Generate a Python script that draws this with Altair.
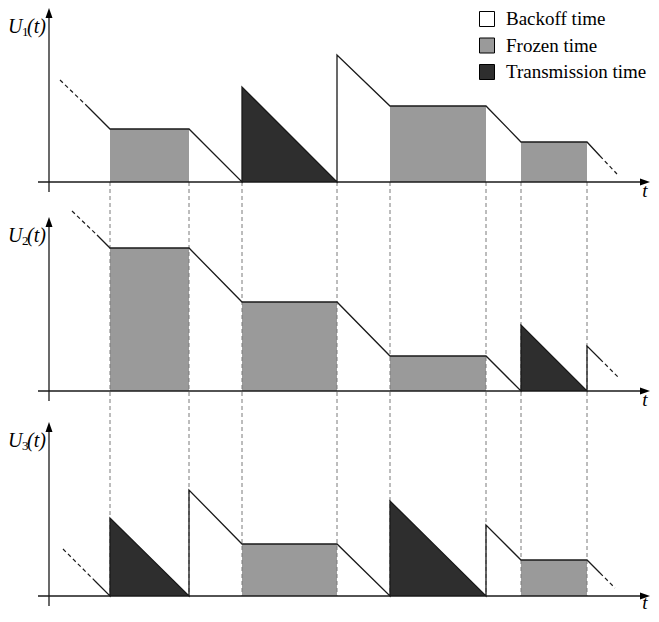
import altair as alt
import pandas as pd

# ---------------- data ----------------
STATIONS = ["1", "2", "3"]
BASE = [432, 223, 18]            # vertical offset of each station's strip
SLOTS = [61, 140, 193, 288, 341, 437, 472, 538]   # slot boundaries (dashed guides)

# solid U(t) curve vertices per station
CURVE_T = [
    [39, 61, 140, 193, 193, 288, 288, 341, 437, 472, 538, 551],
    [48, 61, 140, 193, 288, 341, 437, 472, 472, 538, 538, 551],
    [46, 61, 61, 140, 140, 193, 288, 341, 341, 437, 437, 472, 538, 551],
]
CURVE_U = [
    [75, 53, 53, 0, 95, 0, 127, 76, 76, 40, 40, 26],
    [156, 143, 143, 89, 89, 35, 35, 0, 66, 0, 45, 32],
    [15, 0, 78, 0, 106, 52, 52, 0, 95, 0, 71, 36, 36, 23],
]
# dashed lead-in / lead-out segments (t0, u0, t1, u1)
LEAD_IN = [(11, 102, 39, 75), (23, 180, 48, 156), (14, 47, 46, 15)]
LEAD_OUT = [(551, 26, 568, 8), (551, 32, 569, 14), (551, 23, 566, 8)]

# filled periods
PERIOD_STATION = [0, 0, 0, 0, 1, 1, 1, 1, 2, 2, 2, 2]
PERIOD_KIND = ["Frozen time", "Transmission time", "Frozen time", "Frozen time",
               "Frozen time", "Frozen time", "Frozen time", "Transmission time",
               "Transmission time", "Frozen time", "Transmission time", "Frozen time"]
PERIOD_T0 = [61, 193, 341, 472, 61, 193, 341, 472, 61, 193, 341, 472]
PERIOD_T1 = [140, 288, 437, 538, 140, 288, 437, 538, 140, 288, 437, 538]
PERIOD_U0 = [53, 95, 76, 40, 143, 89, 35, 66, 78, 52, 95, 36]
PERIOD_U1 = [53, 0, 76, 40, 143, 89, 35, 0, 0, 52, 0, 36]

LEGEND_LABELS = ["Backoff time", "Frozen time", "Transmission time"]
LEGEND_COLORS = ["#ffffff", "#9a9a9a", "#2e2e2e"]
LEGEND_U = [163, 136.5, 110]
T_LABEL_U = [-9, -9, -7]

# ---------------- tables ----------------
xs = alt.Scale(domain=[-41, 602], nice=False, zero=False)
ys = alt.Scale(domain=[0, 606], nice=False, zero=False)
cscale = alt.Scale(domain=LEGEND_LABELS, range=LEGEND_COLORS)

curve_rows = []
for k, (base, ts, us) in enumerate(zip(BASE, CURVE_T, CURVE_U)):
    for i, (t, u) in enumerate(zip(ts, us)):
        curve_rows.append(dict(id=f"c{k}", i=i, t=t, Y=base + u))
curve_df = pd.DataFrame(curve_rows)

lead_rows = []
for k, base in enumerate(BASE):
    for j, seg in enumerate([LEAD_IN[k], LEAD_OUT[k]]):
        lead_rows.append(dict(id=f"l{k}{j}", i=0, t=seg[0], Y=base + seg[1]))
        lead_rows.append(dict(id=f"l{k}{j}", i=1, t=seg[2], Y=base + seg[3]))
lead_df = pd.DataFrame(lead_rows)

area_rows = []
for n in range(len(PERIOD_KIND)):
    base = BASE[PERIOD_STATION[n]]
    area_rows.append(dict(id=n, kind=PERIOD_KIND[n], t=PERIOD_T0[n], Y=base + PERIOD_U0[n], Y2=base))
    area_rows.append(dict(id=n, kind=PERIOD_KIND[n], t=PERIOD_T1[n], Y=base + PERIOD_U1[n], Y2=base))
area_df = pd.DataFrame(area_rows)

guide_df = pd.DataFrame(dict(t=SLOTS, Y=[BASE[0]] * len(SLOTS), Y2=[BASE[2]] * len(SLOTS)))

yaxis_df = pd.DataFrame(dict(t=[0] * 3, Y=[b - 10 for b in BASE], Y2=[b + 164 for b in BASE]))
xaxis_df = pd.DataFrame(dict(t=[-11] * 3, t2=[591] * 3, Y=BASE))
uparrow_df = pd.DataFrame(dict(t=[0] * 3, Y=[b + 164 for b in BASE]))
rarrow_df = pd.DataFrame(dict(t=[591] * 3, Y=BASE))

ulab_df = pd.DataFrame(dict(t=[-41] * 3, Y=[b + 155 for b in BASE]))
sub_df = pd.DataFrame(dict(t=[-27] * 3, Y=[b + 150 for b in BASE], s=STATIONS))
paren_df = pd.DataFrame(dict(t=[-22] * 3, Y=[b + 155 for b in BASE]))
tlab_df = pd.DataFrame(dict(t=[596] * 3, Y=[b + u for b, u in zip(BASE, T_LABEL_U)]))

leg_df = pd.DataFrame(dict(label=LEGEND_LABELS, t=[438] * 3, tt=[457] * 3,
                           Y=[BASE[0] + u for u in LEGEND_U]))

X = alt.X("t:Q", scale=xs, axis=None)
Y = alt.Y("Y:Q", scale=ys, axis=None)
INK = "#1a1a1a"
FONT = "Liberation Serif, Times New Roman, DejaVu Serif, serif"

frozen = alt.Chart(area_df).transform_filter(alt.datum.kind == "Frozen time").mark_area(
    interpolate="linear").encode(
    x=X, y=Y, y2="Y2:Q", detail="id:N",
    color=alt.Color("kind:N", scale=cscale, legend=None))
trans = alt.Chart(area_df).transform_filter(alt.datum.kind == "Transmission time").mark_area(
    interpolate="linear").encode(
    x=X, y=Y, y2="Y2:Q", detail="id:N",
    color=alt.Color("kind:N", scale=cscale, legend=None))

guides = alt.Chart(guide_df).mark_rule(color="#7a7a7a", strokeWidth=1, strokeDash=[4, 3]).encode(
    x=X, y=Y, y2="Y2:Q")

curves = alt.Chart(curve_df).mark_line(color=INK, strokeWidth=1.3).encode(
    x=X, y=Y, detail="id:N", order="i:Q")
leads = alt.Chart(lead_df).mark_line(color=INK, strokeWidth=1.2, strokeDash=[4, 3]).encode(
    x=X, y=Y, detail="id:N", order="i:Q")

yaxes = alt.Chart(yaxis_df).mark_rule(color=INK, strokeWidth=1.3).encode(x=X, y=Y, y2="Y2:Q")
xaxes = alt.Chart(xaxis_df).mark_rule(color=INK, strokeWidth=1.3).encode(x=X, x2="t2:Q", y=Y)
uparrows = alt.Chart(uparrow_df).mark_point(
    shape="M0,-2L0.7,0L-0.7,0Z", size=100, filled=True, color="black", opacity=1).encode(x=X, y=Y)
rarrows = alt.Chart(rarrow_df).mark_point(
    shape="M2,0L0,-0.7L0,0.7Z", size=100, filled=True, color="black", opacity=1).encode(x=X, y=Y)

ulab = alt.Chart(ulab_df).mark_text(font=FONT, fontSize=20, fontStyle="italic", align="left",
                                    baseline="middle", color="black", text="U").encode(x=X, y=Y)
sub = alt.Chart(sub_df).mark_text(font=FONT, fontSize=13, align="left", baseline="middle",
                                  color="black").encode(x=X, y=Y, text="s:N")
paren = alt.Chart(paren_df).mark_text(font=FONT, fontSize=20, fontStyle="italic", align="left",
                                      baseline="middle", color="black", text="(t)").encode(x=X, y=Y)
tlab = alt.Chart(tlab_df).mark_text(font=FONT, fontSize=19, fontStyle="italic", align="center",
                                    baseline="middle", color="black", text="t").encode(x=X, y=Y)

legsq = alt.Chart(leg_df).mark_square(size=225, stroke="black", strokeWidth=1, opacity=1,
                                      filled=True).encode(
    x=X, y=Y, color=alt.Color("label:N", scale=cscale, legend=None))
legtx = alt.Chart(leg_df).mark_text(font=FONT, fontSize=19, align="left", baseline="middle",
                                    color="black").encode(
    x=alt.X("tt:Q", scale=xs, axis=None), y=Y, text="label:N")

chart = alt.layer(
    frozen, guides, trans, curves, leads, yaxes, xaxes, uparrows, rarrows,
    ulab, sub, paren, tlab, legsq, legtx
).properties(width=643, height=606, padding=0, autosize="none",
             background="white").configure_view(strokeWidth=0)

chart.save("out.html", embed_options={"renderer": "svg", "actions": False})
